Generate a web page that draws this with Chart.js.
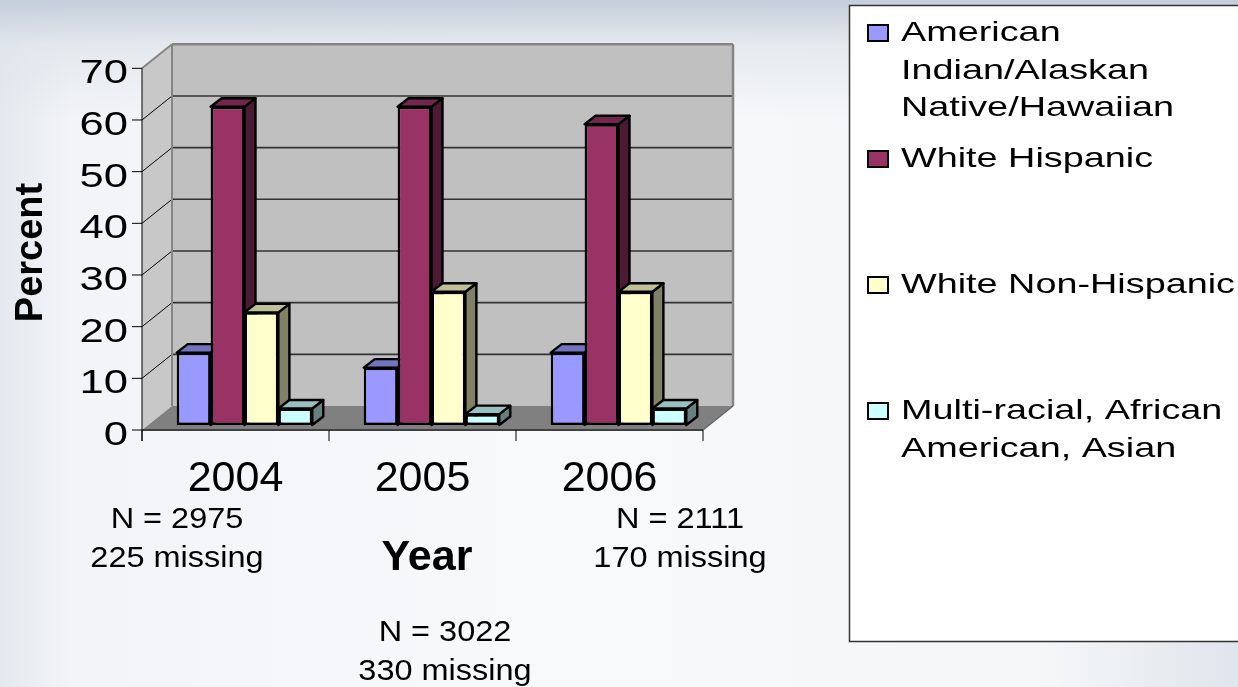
<!DOCTYPE html>
<html>
<head>
<meta charset="utf-8">
<title>Percent by year</title>
<script src="https://cdn.jsdelivr.net/npm/chart.js@4.4.1/dist/chart.umd.min.js"></script>
<style>
  html, body { margin: 0; padding: 0; }
  body {
    width: 1238px; height: 687px; overflow: hidden;
    background:
      linear-gradient(to bottom, rgba(196,206,218,1) 0px, rgba(222,228,235,0.7) 45px, rgba(255,255,255,0) 120px),
      linear-gradient(to right, #e4e9ef 0px, #f2f4f7 70px, #f8f9fb 45%, #f4f6f8 85%, #dfe5ec 100%);
  }
  canvas { display: block; }
</style>
</head>
<body>
<canvas id="grafico" width="1238" height="687"></canvas>
<script>
const years = ['2004', '2005', '2006'];
const groups = ['American Indian/Alaskan Native/Hawaiian', 'White Hispanic', 'White Non-Hispanic', 'Multi-racial, African American, Asian'];
const americanIndian = [14, 11.1, 14];
const whiteHispanic = [61.6, 61.6, 58.2];
const whiteNonHispanic = [21.8, 25.8, 25.8];
const multiRacial = [3.2, 2.1, 3.2];
const yTicks = [0, 10, 20, 30, 40, 50, 60, 70];
const sampleN = [2975, 3022, 2111];
const missing = [225, 330, 170];

// cores: frente, topo, lado
const fronts = ['#9999ff', '#993366', '#ffffcc', '#ccffff'];
const tops = ['#7373bf', '#73264d', '#bfbf99', '#99bfbf'];
const sides = ['#4d4d80', '#4d1a33', '#808066', '#668080'];

const FONT = '"Liberation Sans", Arial, sans-serif';
const DEPTH = { x: 30, y: -24 };   // profundidade do piso / paredes
const SHIFT = { x: 9, y: -5 };     // plano frontal das barras
const BAR = { x: 11, y: -8.5 };    // espessura das barras

function poly(ctx, pts, fill, stroke, lw) {
  ctx.beginPath();
  ctx.moveTo(pts[0][0], pts[0][1]);
  for (let i = 1; i < pts.length; i++) ctx.lineTo(pts[i][0], pts[i][1]);
  ctx.closePath();
  if (fill) { ctx.fillStyle = fill; ctx.fill(); }
  if (stroke) { ctx.strokeStyle = stroke; ctx.lineWidth = lw || 1; ctx.stroke(); }
}

function line(ctx, x1, y1, x2, y2, color, lw) {
  ctx.beginPath();
  ctx.moveTo(x1, y1);
  ctx.lineTo(x2, y2);
  ctx.strokeStyle = color;
  ctx.lineWidth = lw;
  ctx.stroke();
}

function stretchedText(ctx, text, x, y, sx, align) {
  ctx.save();
  ctx.translate(x, y);
  ctx.scale(sx, 1);
  ctx.textAlign = align;
  ctx.fillText(text, 0, 0);
  ctx.restore();
}

function wrap(ctx, text, maxW) {
  const words = text.split(' ');
  const lines = [];
  let cur = '';
  words.forEach(w => {
    const test = cur ? cur + ' ' + w : w;
    if (cur && ctx.measureText(test).width > maxW) { lines.push(cur); cur = w; }
    else cur = test;
  });
  if (cur) lines.push(cur);
  return lines;
}

const paredes = {
  id: 'paredes',
  beforeDatasetsDraw(chart) {
    const ctx = chart.ctx;
    const { left, right, top, bottom } = chart.chartArea;
    const y = chart.scales.y;
    const dx = DEPTH.x, dy = DEPTH.y;
    ctx.save();
    poly(ctx, [[left, top], [left + dx, top + dy], [left + dx, bottom + dy], [left, bottom]], '#c8c8c8');
    poly(ctx, [[left + dx, top + dy], [right + dx, top + dy], [right + dx, bottom + dy], [left + dx, bottom + dy]], '#c0c0c0');
    yTicks.forEach(v => {
      if (v === 0 || v === yTicks[yTicks.length - 1]) return;
      const py = y.getPixelForValue(v);
      line(ctx, left + dx, py + dy, right + dx, py + dy, '#333333', 1.6);
      line(ctx, left, py, left + dx, py + dy, '#000000', 1);
    });
    poly(ctx, [[left, bottom], [right, bottom], [right + dx, bottom + dy], [left + dx, bottom + dy]], '#808080');
    line(ctx, left, top, left + dx, top + dy, '#858585', 2);
    line(ctx, left + dx, top + dy, right + dx, top + dy, '#858585', 2.5);
    line(ctx, right + dx, top + dy, right + dx, bottom + dy, '#858585', 2.5);
    line(ctx, left + dx, top + dy, left + dx, bottom + dy, '#858585', 2);
    line(ctx, right, bottom, right + dx, bottom + dy, '#666666', 1.5);
    ctx.restore();

    // faces 3D (topo e lado) antes das frentes, da esquerda para a direita
    ctx.save();
    ctx.translate(SHIFT.x, SHIFT.y);
    ctx.lineJoin = 'round';
    chart.data.datasets.forEach((ds, i) => {
      chart.getDatasetMeta(i).data.forEach(el => {
        const l = el.x - el.width / 2, r = el.x + el.width / 2;
        const t = el.y, b = el.base;
        poly(ctx, [[r, t], [r + BAR.x, t + BAR.y], [r + BAR.x, b + BAR.y], [r, b]], sides[i], '#000', 2.4);
        poly(ctx, [[l, t], [r, t], [r + BAR.x, t + BAR.y], [l + BAR.x, t + BAR.y]], tops[i], '#000', 2.4);
      });
    });
  },
  afterDatasetsDraw(chart) {
    const ctx = chart.ctx;
    ctx.restore();
    const { left, right, top, bottom } = chart.chartArea;
    const y = chart.scales.y, x = chart.scales.x;
    ctx.save();
    line(ctx, left, bottom, right, bottom, '#404040', 2);
    line(ctx, left, top, left, bottom + 11, '#000', 1);
    ctx.fillStyle = '#000';
    ctx.font = '33px ' + FONT;
    ctx.textBaseline = 'alphabetic';
    yTicks.forEach(v => {
      const py = y.getPixelForValue(v);
      line(ctx, left - 10, py, left, py, '#000', 1);
      stretchedText(ctx, String(v), left - 14, py + 15, 1.32, 'right');
    });
    const cw = (right - left) / years.length;
    for (let k = 0; k <= years.length; k++) {
      const px = left + k * cw;
      line(ctx, px, bottom, px, bottom + 11, '#000', 1);
    }
    ctx.font = '43px ' + FONT;
    years.forEach((yr, k) => {
      ctx.textAlign = 'center';
      ctx.fillText(yr, x.getPixelForValue(k), bottom + 61);
    });
    // titulo do eixo y
    ctx.save();
    ctx.font = 'bold 38px ' + FONT;
    ctx.translate(41.5, 252.5);
    ctx.rotate(-Math.PI / 2);
    ctx.textAlign = 'center';
    ctx.fillText('Percent', 0, 0);
    ctx.restore();
    ctx.font = 'bold 43px ' + FONT;
    ctx.textAlign = 'center';
    ctx.fillText('Year', 427, 570);
    // notas N / missing
    const notaX = [177, 445, 680];
    const notaY = [528, 641, 528];
    ctx.font = '29px ' + FONT;
    sampleN.forEach((n, k) => {
      stretchedText(ctx, 'N = ' + n, notaX[k], notaY[k], 1.12, 'center');
      stretchedText(ctx, missing[k] + ' missing', notaX[k], notaY[k] + 38.5, 1.12, 'center');
    });
    ctx.restore();
  },
  afterDraw(chart) {
    const ctx = chart.ctx;
    ctx.save();
    ctx.fillStyle = '#ffffff';
    ctx.fillRect(849.5, 5.5, 400, 636);
    ctx.strokeStyle = '#333333';
    ctx.lineWidth = 1.5;
    ctx.strokeRect(849.5, 5.5, 400, 636);
    ctx.font = '28px ' + FONT;
    ctx.textBaseline = 'alphabetic';
    chart.data.datasets.forEach((ds, i) => {
      const base = 41 + i * 126;
      ctx.fillStyle = ds.backgroundColor;
      ctx.fillRect(868, base - 16, 20, 16);
      ctx.strokeStyle = '#000';
      ctx.lineWidth = 2;
      ctx.strokeRect(868, base - 16, 20, 16);
      ctx.fillStyle = '#000';
      wrap(ctx, ds.label, 340 / 1.35).forEach((ln, j) => {
        stretchedText(ctx, ln, 901, base + j * 37.7, 1.35, 'left');
      });
    });
    ctx.restore();
  }
};

const series = [americanIndian, whiteHispanic, whiteNonHispanic, multiRacial];

new Chart(document.getElementById('grafico'), {
  type: 'bar',
  data: {
    labels: years,
    datasets: series.map((d, i) => ({
      label: groups[i],
      data: d,
      backgroundColor: fronts[i],
      borderColor: '#000000',
      borderWidth: 2.5,
      borderSkipped: false,
      categoryPercentage: 0.725,
      barPercentage: 1
    }))
  },
  options: {
    responsive: false,
    animation: false,
    devicePixelRatio: 1,
    layout: { padding: { left: 142, right: 535, top: 68.3, bottom: 257 } },
    plugins: { legend: { display: false }, tooltip: { enabled: false } },
    scales: {
      x: { display: false, offset: true, grid: { display: false } },
      y: { display: false, min: 0, max: 70 }
    }
  },
  plugins: [paredes]
});
</script>
</body>
</html>
